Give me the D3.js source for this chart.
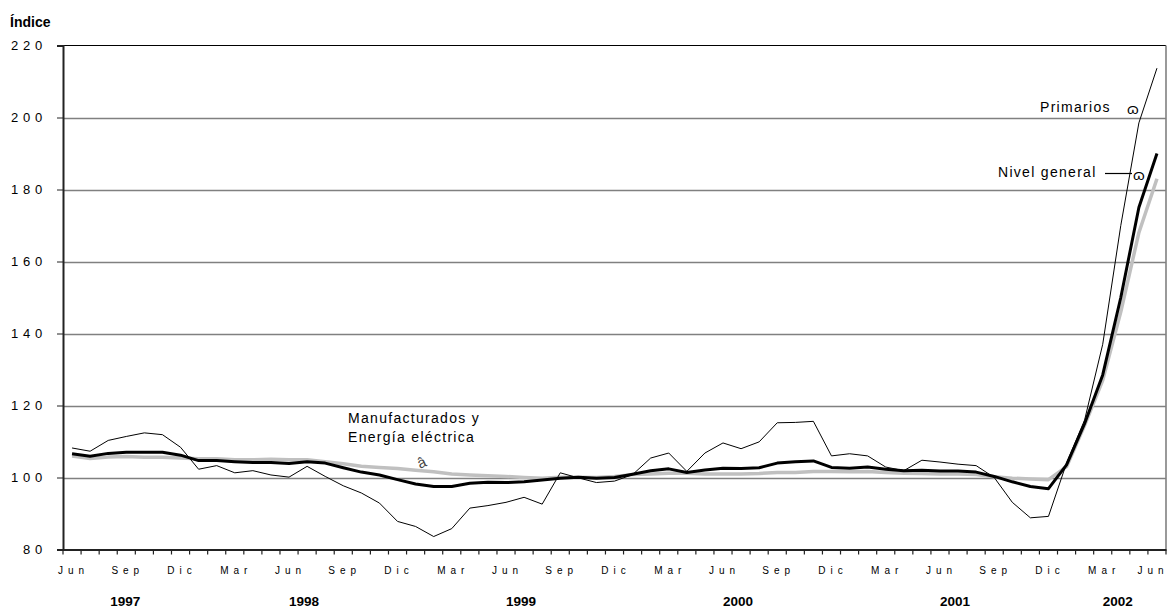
<!DOCTYPE html>
<html>
<head>
<meta charset="utf-8">
<script src="https://cdn.jsdelivr.net/npm/d3@7"></script>
<style>
  body { margin: 0; background: #fff; }
  svg { display: block; font-family: "Liberation Sans", Arial, sans-serif; }
</style>
</head>
<body>
<svg id="chart" width="1172" height="609"></svg>
<script>
// meses de jun-1997 a jun-2002
var monthNames = ['Ene', 'Feb', 'Mar', 'Abr', 'May', 'Jun', 'Jul', 'Ago', 'Sep', 'Oct', 'Nov', 'Dic'];
var startYear = 1997, startMonth = 5, nMonths = 61;
var yearLabels = ['1997', '1998', '1999', '2000', '2001', '2002'];
var yTicks = [80, 100, 120, 140, 160, 180, 200, 220];

var nivelGeneral = [106.6, 105.9, 106.7, 107.0, 107.0, 107.0, 106.2, 104.7, 104.7, 104.4,
    104.2, 104.2, 103.9, 104.4, 104.0, 102.7, 101.5, 100.7, 99.4, 98.2,
    97.5, 97.5, 98.4, 98.7, 98.6, 98.8, 99.3, 99.8, 100.1, 99.8,
    100.0, 100.9, 101.9, 102.4, 101.4, 102.1, 102.6, 102.5, 102.7, 104.0,
    104.4, 104.6, 102.8, 102.6, 102.9, 102.3, 101.9, 102.0, 101.8, 101.8,
    101.5, 100.3, 98.8, 97.5, 96.9, 103.5, 115.0, 128.5, 150.0, 175.0, 190.0];
var primarios = [108.2, 107.3, 110.3, 111.4, 112.4, 111.9, 108.4, 102.3, 103.3, 101.3,
    101.9, 100.7, 100.1, 103.1, 100.3, 97.7, 95.7, 92.9, 87.8, 86.4,
    83.6, 85.8, 91.5, 92.2, 93.1, 94.5, 92.6, 101.3, 99.9, 98.6,
    99.0, 100.8, 105.4, 106.8, 101.7, 106.8, 109.6, 108.0, 109.9, 115.2,
    115.3, 115.6, 106.0, 106.6, 106.0, 102.9, 101.9, 104.8, 104.3, 103.7,
    103.3, 100.0, 93.1, 88.8, 89.2, 104.0, 116.0, 137.0, 170.0, 198.5, 213.7];
var manufacturados = [106.0, 105.3, 105.7, 105.8, 105.6, 105.6, 105.4, 105.2, 105.2, 104.9,
    104.9, 105.1, 104.9, 104.9, 104.4, 103.8, 103.1, 102.8, 102.5, 102.0,
    101.6, 101.0, 100.7, 100.5, 100.3, 100.0, 99.8, 100.1, 100.1, 100.0,
    100.3, 100.8, 101.0, 101.2, 101.2, 101.0, 101.0, 101.0, 101.1, 101.4,
    101.4, 101.7, 101.7, 101.6, 101.7, 101.4, 101.2, 101.1, 101.0, 101.0,
    100.8, 100.2, 99.8, 99.6, 99.4, 103.0, 114.5, 127.0, 146.0, 168.0, 183.0];

var months = d3.range(nMonths).map(function (i) {
    var m = (startMonth + i) % 12;
    var y = startYear + Math.floor((startMonth + i) / 12);
    return { i: i, name: monthNames[m], month: m, year: y };
});

var MARGIN = { LEFT: 63, RIGHT: 6, TOP: 45.5, BOTTOM: 59.5 };
var width = 1172, height = 609;
var svg = d3.select('#chart');

var xScale = d3.scaleBand()
    .domain(d3.range(nMonths))
    .range([MARGIN.LEFT, width - MARGIN.RIGHT]);
var yScale = d3.scaleLinear()
    .domain([80, 220])
    .range([height - MARGIN.BOTTOM, MARGIN.TOP]);
var cx = function (i) { return xScale(i) + xScale.bandwidth() / 2; };

// grid
svg.append('g').selectAll('line')
    .data(yTicks.filter(function (d) { return d > 80 && d < 220; }))
    .enter().append('line')
    .attr('x1', MARGIN.LEFT).attr('x2', width - MARGIN.RIGHT)
    .attr('y1', function (d) { return Math.round(yScale(d)) + 0.5; })
    .attr('y2', function (d) { return Math.round(yScale(d)) + 0.5; })
    .style('stroke', '#808080').style('stroke-width', 1.3);

// borde superior y derecho
svg.append('line')
    .attr('x1', MARGIN.LEFT).attr('x2', width - MARGIN.RIGHT)
    .attr('y1', yScale(220)).attr('y2', yScale(220))
    .style('stroke', '#000').style('stroke-width', 1.2);
svg.append('line')
    .attr('x1', width - MARGIN.RIGHT).attr('x2', width - MARGIN.RIGHT)
    .attr('y1', yScale(220)).attr('y2', yScale(80))
    .style('stroke', '#808080').style('stroke-width', 1.6);

// eje y
var yAxis = d3.axisLeft(yScale)
    .tickValues(yTicks)
    .tickSize(6)
    .tickPadding(10)
    .tickFormat(function (d) { return d; });
var gy = svg.append('g')
    .attr('transform', 'translate(' + MARGIN.LEFT + ',0)')
    .call(yAxis);
gy.select('.domain').style('stroke', '#222').style('stroke-width', 2);
gy.selectAll('.tick line').style('stroke', '#222');
gy.selectAll('text')
    .style('font-family', '"Liberation Sans", Arial, sans-serif')
    .style('font-size', '13px')
    .style('letter-spacing', '4.8px')
    .style('fill', '#000');

// eje x
var xAxis = d3.axisBottom(xScale)
    .tickValues([])
    .tickSizeOuter(0);
var gx = svg.append('g')
    .attr('transform', 'translate(0,' + yScale(80) + ')')
    .call(xAxis);
gx.select('.domain').style('stroke', '#222').style('stroke-width', 2);
gx.selectAll('line.mtick')
    .data(d3.range(nMonths + 1))
    .enter().append('line')
    .attr('class', 'mtick')
    .attr('x1', function (i) { return i < nMonths ? xScale(i) : xScale(nMonths - 1) + xScale.bandwidth(); })
    .attr('x2', function (i) { return i < nMonths ? xScale(i) : xScale(nMonths - 1) + xScale.bandwidth(); })
    .attr('y1', 0).attr('y2', 5)
    .style('stroke', '#222').style('stroke-width', 1.2);
gx.selectAll('text.mlabel')
    .data(months.filter(function (d) { return d.i % 3 === 0; }))
    .enter().append('text')
    .attr('class', 'mlabel')
    .attr('x', function (d) { return d.i === nMonths - 1 ? cx(d.i) - 4 : cx(d.i) + 1.5; })
    .attr('y', 24)
    .attr('text-anchor', 'middle')
    .style('font-family', '"Liberation Sans", Arial, sans-serif')
    .style('font-size', '10px')
    .style('letter-spacing', '5px')
    .style('fill', '#000')
    .text(function (d) { return d.name; });

// años
var yearCenters = yearLabels.map(function (y, k) {
    var idx = months.filter(function (d) { return d.year === +y; }).map(function (d) { return d.i; });
    return { year: y, x: (cx(d3.min(idx)) + cx(d3.max(idx))) / 2 + (k === 0 ? -1 : 6) };
});
svg.append('g').selectAll('text')
    .data(yearCenters)
    .enter().append('text')
    .attr('x', function (d) { return d.x; })
    .attr('y', 606)
    .attr('text-anchor', 'middle')
    .style('font-size', '13.5px')
    .style('font-weight', 'bold')
    .text(function (d) { return d.year; });

// series
var line = d3.line()
    .x(function (d, i) { return cx(i); })
    .y(function (d) { return yScale(d); });
svg.append('path').datum(manufacturados)
    .attr('d', line)
    .style('fill', 'none').style('stroke', '#c0c0c0').style('stroke-width', 3.5)
    .style('stroke-linejoin', 'round');
svg.append('path').datum(nivelGeneral)
    .attr('d', line)
    .style('fill', 'none').style('stroke', '#000').style('stroke-width', 3)
    .style('stroke-linejoin', 'round');
svg.append('path').datum(primarios)
    .attr('d', line)
    .style('fill', 'none').style('stroke', '#000').style('stroke-width', 1)
    .style('stroke-linejoin', 'round');

// titulo eje
svg.append('text')
    .attr('x', 10).attr('y', 27)
    .style('font-size', '14px').style('font-weight', 'bold')
    .text('Índice');

// rotulos
var ann = svg.append('g').style('font-size', '14px').style('letter-spacing', '1.3px');
ann.append('text').attr('x', 348).attr('y', 422.5).text('Manufacturados y');
ann.append('text').attr('x', 348).attr('y', 441.5).text('Energía eléctrica');
ann.append('text').attr('x', 1040).attr('y', 111.5).text('Primarios');
ann.append('text').attr('x', 998).attr('y', 177).text('Nivel general');
svg.append('line')
    .attr('x1', 1105).attr('x2', 1132)
    .attr('y1', 173.5).attr('y2', 173.5)
    .style('stroke', '#000').style('stroke-width', 1.2);
svg.append('text')
    .attr('transform', 'translate(420,469) rotate(-25)')
    .style('font-size', '15px').style('fill', '#444')
    .text('â');
svg.append('text')
    .attr('transform', 'translate(1127,114)')
    .style('font-size', '15px')
    .text('ɷ');
svg.append('text')
    .attr('transform', 'translate(1133,180)')
    .style('font-size', '15px')
    .text('ɷ');
</script>
</body>
</html>
